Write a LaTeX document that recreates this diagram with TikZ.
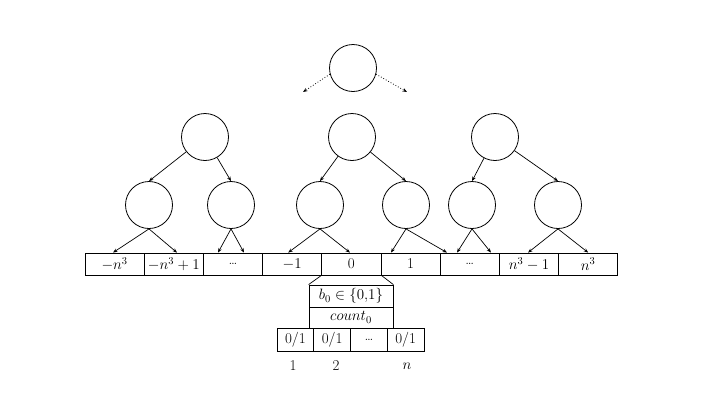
\documentclass[tikz,border=0pt]{standalone}
\usepackage{fix-cm}
\usetikzlibrary{arrows.meta}
\begin{document}
\begin{tikzpicture}[x=1pt,y=-1pt,
 nd/.style={circle,draw,minimum size=47pt,inner sep=0pt,line width=0.8pt},
 txt/.style={font=\fontsize{15}{17}\selectfont},
 cell/.style={draw,minimum width=59.2pt,minimum height=22pt,inner sep=0pt,line width=0.8pt,txt},
 bit/.style={draw,minimum width=36.75pt,minimum height=23pt,inner sep=0pt,line width=0.8pt,txt},
 arr/.style={-{Stealth[length=4.5pt,width=3.5pt]},line width=0.7pt},
 darr/.style={-{Stealth[length=4.5pt,width=3.5pt]},line width=0.8pt,dotted},
 ]
\useasboundingbox (0,0) rectangle (720,405);
% top
\node[nd] (top) at (353,68) {};
\coordinate (tl) at (303,92);
\coordinate (tr) at (407,92);
\draw[darr] (top.195) -- (tl);
\draw[darr] (top.-15) -- (tr);
% level 2
\node[nd] (L) at (205,137) {};
\node[nd] (M) at (352,137) {};
\node[nd] (R) at (495,137) {};
% level 3
\node[nd] (LL) at (149,205) {};
\node[nd] (LR) at (231,205) {};
\node[nd] (ML) at (320,205) {};
\node[nd] (MR) at (406,205) {};
\node[nd] (RL) at (472,205) {};
\node[nd] (RR) at (558,205) {};
\draw[arr] (L) -- (LL.north);
\draw[arr] (L) -- (LR.north);
\draw[arr] (M) -- (ML.north);
\draw[arr] (M) -- (MR.north);
\draw[arr] (R) -- (RL.north);
\draw[arr] (R) -- (RR.north);
% array
\node[cell] (c0) at (114.6,264) {$-n^3$};
\node[cell] (c1) at (173.8,264) {$-n^3+1$};
\node[cell] (c2) at (233.0,264) {\dots};
\node[cell] (c3) at (292.2,264) {$-1$};
\node[cell] (c4) at (351.4,264) {0};
\node[cell] (c5) at (410.6,264) {1};
\node[cell] (c6) at (469.8,264) {\dots};
\node[cell] (c7) at (529.0,264) {$n^3-1$};
\node[cell] (c8) at (588.2,264) {$n^3$};
% level 3 -> array
\draw[arr] (LL.south) -- ([xshift=-1.6pt]c0.north);
\draw[arr] (LL.south) -- ([xshift=3.2pt]c1.north);
\draw[arr] (LR.south) -- ([xshift=-15pt]c2.north);
\draw[arr] (LR.south) -- ([xshift=11pt]c2.north);
\draw[arr] (ML.south) -- ([xshift=-4pt]c3.north);
\draw[arr] (ML.south) -- ([xshift=-1.4pt]c4.north);
\draw[arr] (MR.south) -- ([xshift=-19.6pt]c5.north);
\draw[arr] (MR.south) -- ([xshift=-22.8pt]c6.north);
\draw[arr] (RL.south) -- ([xshift=-12.8pt]c6.north);
\draw[arr] (RL.south) -- ([xshift=21.2pt]c6.north);
\draw[arr] (RR.south) -- ([xshift=-1pt]c7.north);
\draw[arr] (RR.south) -- (c8.north);
% detail box
\node[draw,minimum width=84pt,minimum height=22pt,inner sep=0pt,line width=0.8pt,txt] (b) at (351,296) {$b_0\in\{0{,}1\}$};
\node[draw,minimum width=84pt,minimum height=21pt,inner sep=0pt,line width=0.8pt,txt] (cnt) at (351,317.5) {$count_0$};
\draw[line width=0.7pt] (c4.south west) -- (b.north west);
\draw[line width=0.7pt] (c4.south east) -- (b.north east);
\node[bit] (d1) at (295.4,339.5) {0/1};
\node[bit] (d2) at (332.1,339.5) {0/1};
\node[bit] (d3) at (368.9,339.5) {\dots};
\node[bit] (d4) at (405.6,339.5) {0/1};
\node[txt] (i1) at (293,366) {1};
\node[txt] (i2) at (336,366) {2};
\node[txt] (i3) at (407,366) {$n$};
\end{tikzpicture}
\end{document}
